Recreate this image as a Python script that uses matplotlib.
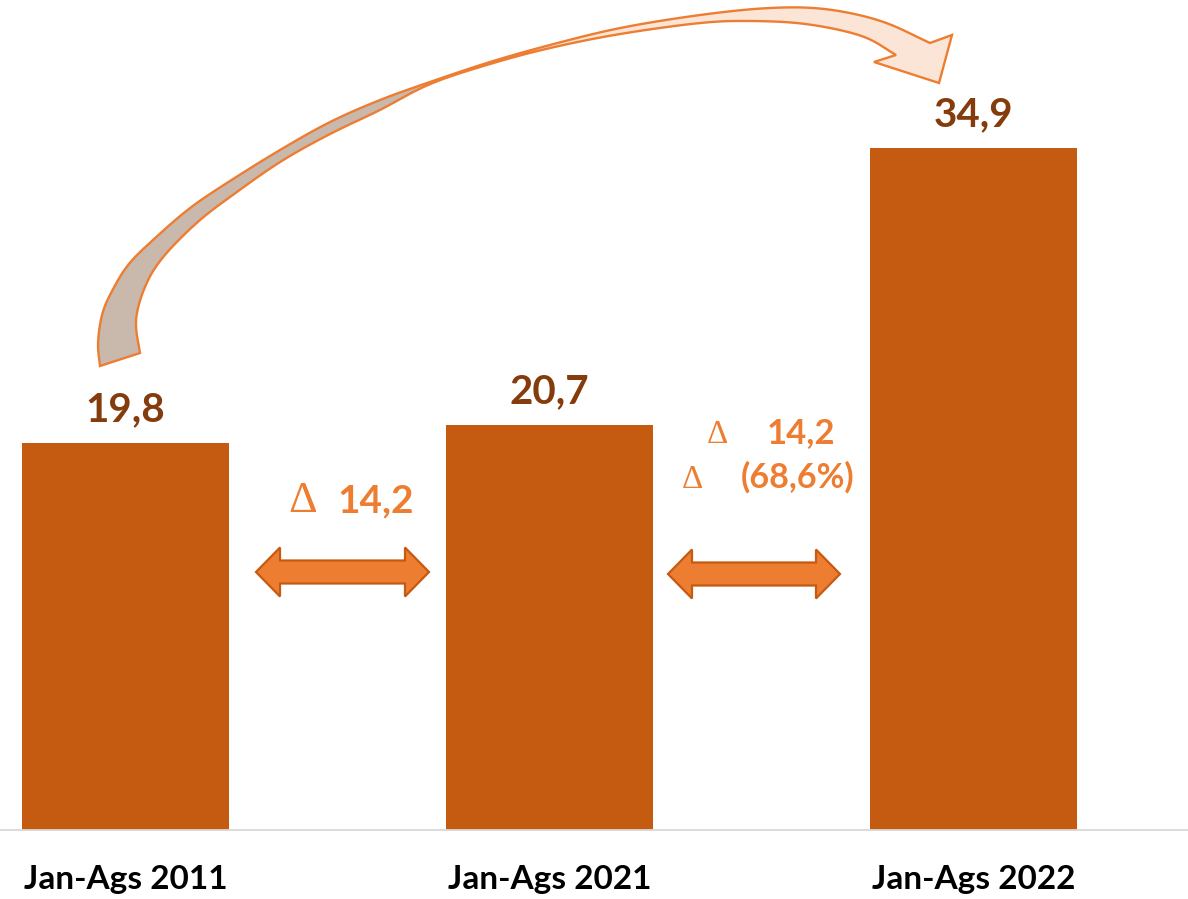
import numpy as np
import matplotlib
matplotlib.use("Agg")
import matplotlib.pyplot as plt
from matplotlib.patches import Polygon
from matplotlib.colors import to_rgb

# --- data -------------------------------------------------------------
categories = ["Jan-Ags 2011", "Jan-Ags 2021", "Jan-Ags 2022"]
values = [19.8, 20.7, 34.9]
value_labels = ["19,8", "20,7", "34,9"]
delta_abs = "14,2"
delta_pct = "(68,6%)"

# --- style ------------------------------------------------------------
BAR = "#C55A11"
LABEL = "#843C0C"
ACCENT = "#ED7D31"
ARROW_EDGE = "#C55A11"
RIBBON_DARK = "#C9B8AC"
RIBBON_LIGHT = "#FBE5D6"

plt.rcParams["font.family"] = ["Lato", "DejaVu Sans"]
SERIF = ["Liberation Serif", "DejaVu Serif"]

W, H = 1188, 899
fig = plt.figure(figsize=(W / 100, H / 100), dpi=100)

base_px = 830          # baseline position from the top of the canvas
px_per_unit = 19.55
ax = fig.add_axes([0, (H - base_px) / H, 1, base_px / H])
ax.set_xlim(-0.296, 2.506)
ax.set_ylim(0, base_px / px_per_unit)

x = np.arange(len(categories))
ax.bar(x, values, width=0.488, color=BAR, zorder=2)

for xi, v, lbl in zip(x, values, value_labels):
    ax.annotate(lbl, (xi, v), xytext=(0, 15.8), textcoords="offset points",
                ha="center", va="baseline", fontsize=29, fontweight="bold",
                color=LABEL)

for side in ("top", "left", "right"):
    ax.spines[side].set_visible(False)
ax.spines["bottom"].set_color("#D9D9D9")
ax.spines["bottom"].set_linewidth(1.3)
ax.set_yticks([])
ax.set_xticks(x)
ax.set_xticklabels(categories, fontsize=24, fontweight="bold", color="black")
ax.tick_params(axis="x", length=0, pad=25)

# --- decorations in canvas pixel coordinates --------------------------
deco = fig.add_axes([0, 0, 1, 1], zorder=5)
deco.axis("off")
deco.set_autoscale_on(False)


def double_arrow(x0, x1, yc, head_h=49, shaft_h=23, head_len=24):
    pts = [
        (x0, yc), (x0 + head_len, yc - head_h / 2), (x0 + head_len, yc - shaft_h / 2),
        (x1 - head_len, yc - shaft_h / 2), (x1 - head_len, yc - head_h / 2), (x1, yc),
        (x1 - head_len, yc + head_h / 2), (x1 - head_len, yc + shaft_h / 2),
        (x0 + head_len, yc + shaft_h / 2), (x0 + head_len, yc + head_h / 2),
    ]
    deco.add_patch(Polygon(pts, closed=True, facecolor=ACCENT,
                           edgecolor=ARROW_EDGE, linewidth=1.6, joinstyle="miter"))


def smooth(points, n=20, window=9):
    """Catmull-Rom curve through the points, lightly averaged to remove kinks."""
    p = np.asarray(points, dtype=float)
    p = np.vstack([p[0] * 2 - p[1], p, p[-1] * 2 - p[-2]])
    out = []
    s = np.linspace(0, 1, n, endpoint=False)[:, None]
    for i in range(1, len(p) - 2):
        p0, p1, p2, p3 = p[i - 1], p[i], p[i + 1], p[i + 2]
        out.append(0.5 * (2 * p1 + (-p0 + p2) * s
                          + (2 * p0 - 5 * p1 + 4 * p2 - p3) * s ** 2
                          + (-p0 + 3 * p1 - 3 * p2 + p3) * s ** 3))
    out.append(p[-2][None, :])
    c = np.vstack(out)
    k = np.ones(window) / window
    half = window // 2
    padded = np.vstack([np.repeat(c[:1], half, 0), c, np.repeat(c[-1:], half, 0)])
    sm = np.column_stack([np.convolve(padded[:, j], k, mode="valid") for j in range(2)])
    sm[0], sm[-1] = c[0], c[-1]
    return sm


double_arrow(256, 429, 572)
double_arrow(668, 840, 574)

# curved ribbon arrow from the first bar to the last one (twists near x=430)
upper_edge = [(100, 366), (98, 343), (102, 315), (111, 293), (128, 265), (153, 240),
              (190, 208), (230, 181), (280, 150), (330, 122), (380, 100), (430, 82),
              (490, 62), (550, 45), (620, 28), (700, 15), (769, 8), (825, 9),
              (881, 21), (930, 43)]
head = [(952, 35), (939, 83), (874, 62)]
lower_edge = [(896, 55), (862, 36), (806, 24), (750, 21), (700, 23), (620, 34),
              (550, 48), (490, 64), (430, 84), (380, 110), (330, 134), (280, 162),
              (230, 197), (200, 220), (172, 247), (155, 268), (145, 287),
              (138, 308), (136, 327), (140, 353)]
outline = np.vstack([smooth(upper_edge), np.asarray(head, float), smooth(lower_edge)])
ribbon = Polygon(outline, closed=True, facecolor="none", edgecolor=ACCENT,
                 linewidth=1.7, joinstyle="miter", zorder=3)
deco.add_patch(ribbon)

xs = np.linspace(90, 960, 800)
t = np.clip((xs - 425) / (455 - 425), 0, 1)[:, None]
grad = (1 - t) * np.array(to_rgb(RIBBON_DARK)) + t * np.array(to_rgb(RIBBON_LIGHT))
img = deco.imshow(grad[None, :, :], extent=(90, 960, 380, 0), aspect="auto",
                  interpolation="bilinear", zorder=2)
img.set_clip_path(ribbon)

# change annotations
deco.text(303, 512, "\u0394", ha="center", va="baseline", fontsize=32,
          family=SERIF, color=ACCENT)
deco.text(337, 512, delta_abs, ha="left", va="baseline", fontsize=28,
          fontweight="bold", color=ACCENT)
deco.text(717, 443, "\u0394", ha="center", va="baseline", fontsize=24,
          family=SERIF, color=ACCENT)
deco.text(767, 443, delta_abs, ha="left", va="baseline", fontsize=25,
          fontweight="bold", color=ACCENT)
deco.text(692, 488, "\u0394", ha="center", va="baseline", fontsize=24,
          family=SERIF, color=ACCENT)
deco.text(741, 488, delta_pct, ha="left", va="baseline", fontsize=24.5,
          fontweight="bold", color=ACCENT)

deco.set_xlim(0, W)
deco.set_ylim(H, 0)

fig.savefig("out.png", dpi=100)
